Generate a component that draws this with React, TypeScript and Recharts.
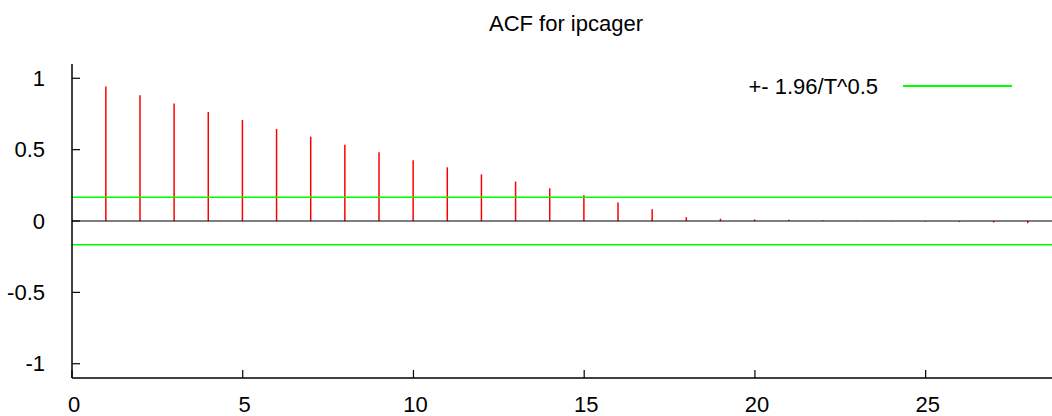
import { ComposedChart, Bar, XAxis, YAxis, ReferenceLine } from 'recharts'

const lags = [
  1, 2, 3, 4, 5, 6, 7, 8, 9, 10, 11, 12, 13, 14, 15, 16, 17, 18, 19, 20, 21,
  22, 23, 24, 25, 26, 27, 28,
]
const acf = [
  0.942, 0.881, 0.823, 0.764, 0.708, 0.645, 0.591, 0.535, 0.481, 0.425, 0.376,
  0.327, 0.276, 0.229, 0.18, 0.129, 0.082, 0.027, 0.016, 0.011, 0.008, 0.004,
  0.002, -0.001, -0.003, -0.006, -0.01, -0.015,
]
const band = 0.166
const xTicks = [0, 5, 10, 15, 20, 25]
const yTicks = [-1, -0.5, 0, 0.5, 1]

const title = 'ACF for ipcager'
const legendLabel = '+- 1.96/T^0.5'

const data = lags.map((lag, i) => ({ lag, acf: acf[i] }))

const FONT = '"Liberation Sans", Arial, sans-serif'
const TICK_LEN = 8
const Y_GAP = 27
const X_GAP = 26

const YTick = (props: any) => {
  const { x, y, payload } = props
  return (
    <g>
      <line
        x1={x + Y_GAP}
        x2={x + Y_GAP + TICK_LEN}
        y1={y}
        y2={y}
        stroke="#000"
        strokeWidth={1.2}
      />
      <text
        x={x}
        y={y}
        textAnchor="end"
        dominantBaseline="central"
        fontFamily={FONT}
        fontSize={22}
        fill="#000"
      >
        {String(payload.value)}
      </text>
    </g>
  )
}

const XTick = (props: any) => {
  const { x, y, payload } = props
  return (
    <g>
      <line
        x1={x}
        x2={x}
        y1={y - X_GAP}
        y2={y - X_GAP - TICK_LEN}
        stroke="#000"
        strokeWidth={1.2}
      />
      <text
        x={x + 2}
        y={y}
        textAnchor="middle"
        dominantBaseline="central"
        fontFamily={FONT}
        fontSize={22}
        fill="#000"
      >
        {String(payload.value)}
      </text>
    </g>
  )
}

const TopTick = (props: any) => {
  const { x, y } = props
  return (
    <line x1={x} x2={x} y1={y} y2={y + TICK_LEN} stroke="#000" strokeWidth={1.2} />
  )
}

export default function App() {
  return (
    <div
      style={{
        position: 'absolute',
        left: 0,
        top: 0,
        width: 1052,
        height: 416,
        background: '#fff',
        fontFamily: FONT,
        overflow: 'hidden',
      }}
    >
      <div
        style={{
          position: 'absolute',
          left: 366,
          width: 400,
          top: 13,
          fontSize: 22,
          lineHeight: '22px',
          textAlign: 'center',
          color: '#000',
        }}
      >
        {title}
      </div>
      <ComposedChart
        width={1052}
        height={416}
        data={data}
        margin={{ top: 64, right: 0, bottom: 0, left: 0 }}
      >
        <XAxis
          xAxisId="top"
          orientation="top"
          dataKey="lag"
          type="number"
          domain={[0, 28.7]}
          ticks={xTicks}
          height={0}
          tickSize={0}
          tickMargin={0}
          tick={<TopTick />}
          axisLine={{ stroke: '#000', strokeWidth: 1.5 }}
          tickLine={false}
        />
        <XAxis
          dataKey="lag"
          type="number"
          domain={[0, 28.7]}
          ticks={xTicks}
          height={38}
          tickSize={0}
          tickMargin={X_GAP}
          tick={<XTick />}
          axisLine={{ stroke: '#000', strokeWidth: 1.5 }}
          tickLine={false}
        />
        <YAxis
          type="number"
          domain={[-1.1, 1.1]}
          ticks={yTicks}
          width={72}
          tickSize={0}
          tickMargin={Y_GAP}
          tick={<YTick />}
          axisLine={{ stroke: '#000', strokeWidth: 1.5 }}
          tickLine={false}
        />
        <Bar dataKey="acf" fill="#ff0000" barSize={1.5} isAnimationActive={false} />
        <ReferenceLine y={0} stroke="#000" strokeWidth={1.2} />
        <ReferenceLine y={band} stroke="#00ff00" strokeWidth={1.5} />
        <ReferenceLine y={-band} stroke="#00ff00" strokeWidth={1.5} />
      </ComposedChart>
      <div
        style={{
          position: 'absolute',
          left: 0,
          width: 878,
          top: 76,
          fontSize: 22,
          lineHeight: '22px',
          textAlign: 'right',
          color: '#000',
        }}
      >
        {legendLabel}
      </div>
      <div
        style={{
          position: 'absolute',
          left: 903,
          width: 109,
          top: 85,
          height: 1.5,
          background: '#00ff00',
        }}
      />
    </div>
  )
}
